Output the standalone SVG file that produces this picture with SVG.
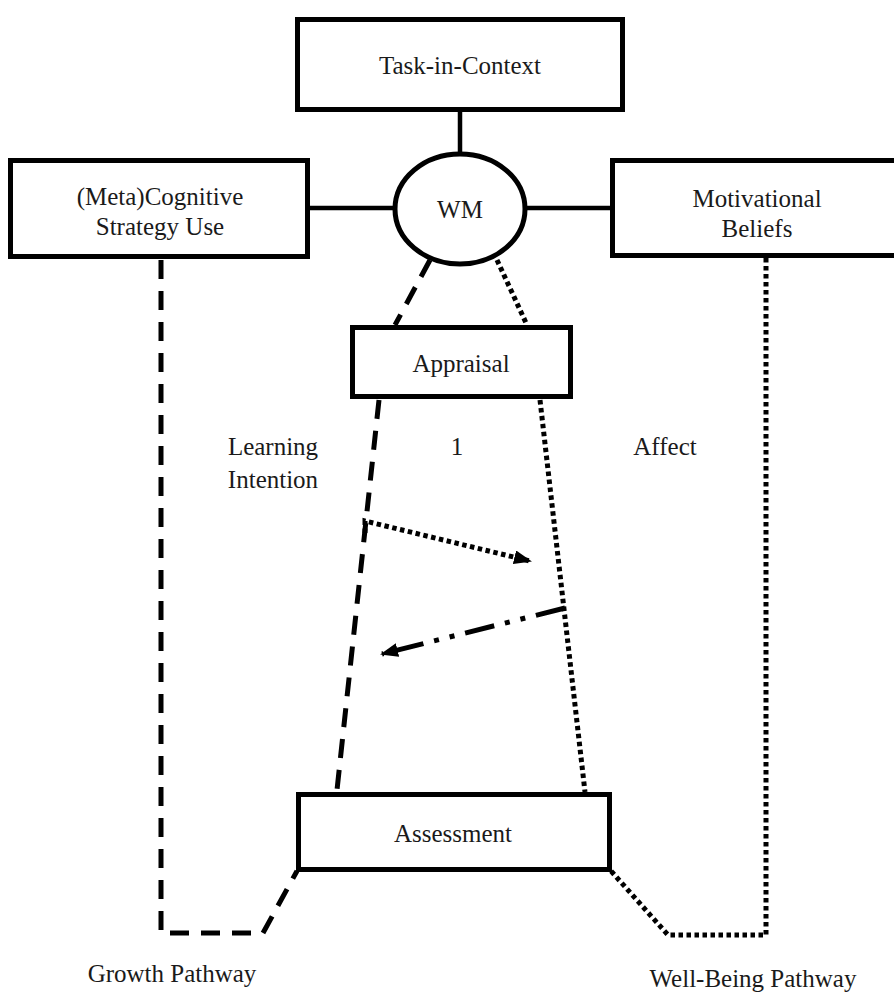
<svg xmlns="http://www.w3.org/2000/svg" width="894" height="995" viewBox="0 0 894 995">
<style>
.box{fill:#fff;stroke:#000;stroke-width:5}
.t{font-family:"Liberation Serif","Times New Roman",serif;font-size:25px;fill:#1a1a1a;text-anchor:middle}
.solid{fill:none;stroke:#000;stroke-width:4.5}
.dash{fill:none;stroke:#000;stroke-width:5;stroke-dasharray:19 12}
.dot{fill:none;stroke:#000;stroke-width:5;stroke-dasharray:4.5 3.5}
.dashdot{fill:none;stroke:#000;stroke-width:5;stroke-dasharray:30 11 5 11 5 11}
</style>
<defs>
<marker id="ah" markerWidth="18" markerHeight="14" refX="16" refY="7" orient="auto" markerUnits="userSpaceOnUse">
<path d="M0,0 L18,7 L0,14 z" fill="#000"/>
</marker>
</defs>
<rect width="894" height="995" fill="#fff"/>
<g id="connectors">
<line class="solid" x1="460" y1="112" x2="460" y2="153"/>
<line class="solid" x1="308" y1="208" x2="394" y2="208"/>
<line class="solid" x1="527" y1="208" x2="611" y2="208"/>
<line class="dash" x1="430" y1="260" x2="395" y2="325"/>
<line class="dot" x1="497" y1="260" x2="527" y2="325"/>
<line class="dash" x1="379" y1="400" x2="337" y2="790"/>
<line class="dot" x1="540" y1="400" x2="585" y2="792"/>
<polyline class="dash" points="161,260 161,933 263,933 297,871"/>
<polyline class="dot" points="766,258 766,935 668,935 611,871"/>
<polyline class="dot" points="365,533 365,521 530,561" marker-end="url(#ah)"/>
<line class="dashdot" x1="565" y1="608" x2="382" y2="654" marker-end="url(#ah)"/>
</g>
<g id="task"><rect class="box" x="297.5" y="19.5" width="325" height="90"/><text class="t" x="460" y="74">Task-in-Context</text></g>
<g id="meta"><rect class="box" x="10.5" y="160.5" width="297" height="96"/><text class="t" x="160" y="205">(Meta)Cognitive</text><text class="t" x="160" y="235">Strategy Use</text></g>
<g id="wm"><ellipse cx="460" cy="209" rx="65" ry="55" fill="#fff" stroke="#000" stroke-width="5"/><text class="t" x="460" y="218">WM</text></g>
<g id="motiv"><rect class="box" x="612.5" y="160.5" width="290" height="95"/><text class="t" x="757" y="207">Motivational</text><text class="t" x="757" y="237">Beliefs</text></g>
<g id="appraisal"><rect class="box" x="352.5" y="327.5" width="218" height="69"/><text class="t" x="461" y="372">Appraisal</text></g>
<g id="assessment"><rect class="box" x="298.5" y="794.5" width="311" height="75"/><text class="t" x="453" y="842">Assessment</text></g>
<g id="labels">
<text class="t" x="273" y="455">Learning</text>
<text class="t" x="273" y="488">Intention</text>
<text class="t" x="457" y="455">1</text>
<text class="t" x="665" y="455">Affect</text>
<text class="t" x="172" y="982">Growth Pathway</text>
<text class="t" x="753" y="987">Well-Being Pathway</text>
</g>
</svg>
